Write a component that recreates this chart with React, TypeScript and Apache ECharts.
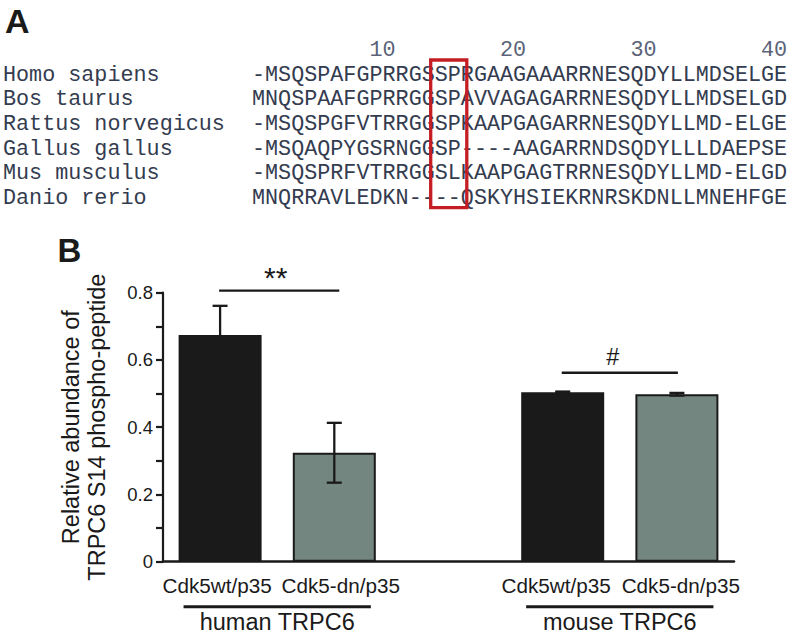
import React, { useEffect, useRef } from 'react';
import * as echarts from 'echarts';

// ---- Panel A: sequence alignment ----
const species = ['Homo sapiens', 'Bos taurus', 'Rattus norvegicus', 'Gallus gallus', 'Mus musculus', 'Danio rerio'];
const sequences = [
  '-MSQSPAFGPRRGSSPRGAAGAAARRNESQDYLLMDSELGE',
  'MNQSPAAFGPRRGGSPAVVAGAGARRNESQDYLLMDSELGD',
  '-MSQSPGFVTRRGGSPKAAPGAGARRNESQDYLLMD-ELGE',
  '-MSQAQPYGSRNGGSP----AAGARRNDSQDYLLLDAEPSE',
  '-MSQSPRFVTRRGGSLKAAPGAGTRRNESQDYLLMD-ELGD',
  'MNQRRAVLEDKN----QSKYHSIEKRNRSKDNLLMNEHFGE',
];
const positionLabels = [10, 20, 30, 40];
const boxedColumns = [14, 15];

// ---- Panel B: bar chart ----
const categories = ['Cdk5wt/p35', 'Cdk5-dn/p35', '', 'Cdk5wt/p35', 'Cdk5-dn/p35'];
const means: (number | null)[] = [0.674, 0.324, null, 0.504, 0.498];
const errors: (number | null)[] = [0.087, 0.089, null, 0.002, 0.004];
const barColors = ['#1a1a1a', '#748680', '#ffffff', '#1a1a1a', '#748680'];
const labelShift = [-3, 6.5, 0, -6.5, 4];
const groupNames = ['human TRPC6', 'mouse TRPC6'];
const groupFrom = [0, 3];
const groupTo = [1, 4];
const sigMarks = ['**', '#'];
const sigFrom = [0, 3];
const sigTo = [1, 4];
const sigLevel = [0.806, 0.562];

const SANS = '"Liberation Sans", Arial, sans-serif';
const MONO = '"Liberation Mono", "Courier New", monospace';
const INK = '#1a1a1a';

const SEQ_X = 252;
const PITCH = 13.05;
const MONO_SIZE = 21.75;
const ROW_Y0 = 75.3;
const ROW_STEP = 24.6;

function buildGraphics(): any[] {
  const els: any[] = [];
  const txt = (text: string, x: number, y: number, size: number, extra: any = {}) => ({
    type: 'text',
    x,
    y,
    silent: true,
    style: {
      text,
      fontSize: size,
      fontFamily: extra.fontFamily || SANS,
      fontWeight: extra.fontWeight || 'normal',
      fill: extra.fill || INK,
      align: extra.align || 'left',
      textAlign: extra.align || 'left',
      verticalAlign: 'middle',
      textVerticalAlign: 'middle',
    },
  });
  els.push(txt('A', 5, 20.5, 34, { fontWeight: 'bold' }));
  els.push(txt('B', 57.5, 250.5, 33, { fontWeight: 'bold' }));
  positionLabels.forEach((n) => {
    els.push(txt(String(n), SEQ_X + (n + 1) * PITCH, 50, MONO_SIZE, { fontFamily: MONO, fill: '#5a6378', align: 'right' }));
  });
  species.forEach((s, i) => {
    els.push(txt(s, 3, ROW_Y0 + i * ROW_STEP, MONO_SIZE, { fontFamily: MONO, fill: '#343c50' }));
  });
  sequences.forEach((s, i) => {
    els.push(txt(s, SEQ_X, ROW_Y0 + i * ROW_STEP, MONO_SIZE, { fontFamily: MONO, fill: '#343c50' }));
  });
  const c0 = boxedColumns[0];
  const c1 = boxedColumns[boxedColumns.length - 1] + 1;
  els.push({
    type: 'rect',
    silent: true,
    shape: { x: SEQ_X + c0 * PITCH - 4, y: 60, width: (c1 - c0) * PITCH + 10, height: 147.7 },
    style: { fill: 'none', stroke: '#c41e24', lineWidth: 3.3 },
  });
  return els;
}

export default function App() {
  const ref = useRef<HTMLDivElement>(null);
  useEffect(() => {
    if (!ref.current) return;
    const chart = echarts.init(ref.current, undefined, { renderer: 'svg' });
    const errData = means
      .map((m, i) => (m == null ? null : [i, m, errors[i]]))
      .filter((d) => d != null);
    const sigData = sigMarks.map((_, i) => [sigFrom[i], sigTo[i], sigLevel[i], i]);
    const groupData = groupNames.map((_, i) => [groupFrom[i], groupTo[i], 0, i]);

    const option: any = {
      animation: false,
      graphic: buildGraphics(),
      grid: { left: 163, right: 58, top: 292.7, bottom: 77.3, containLabel: false },
      xAxis: {
        type: 'category',
        data: categories.map((c, i) => ({
          value: c,
          textStyle: {
            padding: labelShift[i] >= 0 ? [0, 0, 0, 2 * labelShift[i]] : [0, -2 * labelShift[i], 0, 0],
          },
        })),
        axisLine: { show: true, lineStyle: { color: INK, width: 2.5 } },
        axisTick: { show: false },
        axisLabel: { interval: 0, color: INK, fontSize: 20.7, fontFamily: SANS, margin: 13 },
        splitLine: { show: false },
      },
      yAxis: {
        type: 'value',
        min: 0,
        max: 0.8,
        interval: 0.1,
        name: 'Relative abundance of\nTRPC6 S14 phospho-peptide',
        nameLocation: 'middle',
        nameGap: 53,
        nameTextStyle: { color: INK, fontSize: 23.5, fontFamily: SANS, lineHeight: 26 },
        axisLine: { show: true, lineStyle: { color: INK, width: 2.2 } },
        axisTick: { show: true, length: 7, lineStyle: { color: INK, width: 2.2 } },
        axisLabel: {
          color: INK,
          fontSize: 18.5,
          fontFamily: SANS,
          margin: 10,
          formatter: (v: number) => {
            const k = Math.round(v * 10);
            if (k % 2 !== 0) return '';
            return k === 0 ? '0' : (k / 10).toFixed(1);
          },
        },
        splitLine: { show: false },
      },
      series: [
        {
          type: 'bar',
          barWidth: 83,
          data: means.map((m, i) => ({
            value: m,
            itemStyle: { color: barColors[i], borderColor: INK, borderWidth: 2 },
          })),
        },
        {
          type: 'custom',
          encode: { x: 0, y: 1 },
          data: errData,
          z: 5,
          renderItem: (params: any, api: any) => {
            const i = api.value(0);
            const m = api.value(1);
            const e = api.value(2);
            const top = api.coord([i, m + e]);
            const bot = api.coord([i, m - e]);
            const hw = 7.5;
            const style = { stroke: INK, lineWidth: 2.3 };
            return {
              type: 'group',
              children: [
                { type: 'line', shape: { x1: top[0], y1: top[1], x2: bot[0], y2: bot[1] }, style },
                { type: 'line', shape: { x1: top[0] - hw, y1: top[1], x2: top[0] + hw, y2: top[1] }, style },
                { type: 'line', shape: { x1: bot[0] - hw, y1: bot[1], x2: bot[0] + hw, y2: bot[1] }, style },
              ],
            };
          },
        },
        {
          type: 'custom',
          encode: { x: 0 },
          data: sigData,
          clip: false,
          renderItem: (params: any, api: any) => {
            const a = api.coord([api.value(0), api.value(2)]);
            const b = api.coord([api.value(1), api.value(2)]);
            const idx = api.value(3);
            const mark = sigMarks[idx];
            const isStar = mark.indexOf('*') >= 0;
            const cx = (a[0] + b[0]) / 2 + (isStar ? -1.5 : -7);
            return {
              type: 'group',
              children: [
                { type: 'line', shape: { x1: a[0] - 1, y1: a[1], x2: b[0] + (isStar ? 5 : 1), y2: b[1] }, style: { stroke: INK, lineWidth: 2.3 } },
                {
                  type: 'text',
                  x: cx,
                  y: a[1] + (isStar ? -13 : -16),
                  style: {
                    text: mark,
                    fontSize: isStar ? 30 : 23.5,
                    fontFamily: SANS,
                    fill: INK,
                    align: 'center',
                    textAlign: 'center',
                    verticalAlign: 'middle',
                    textVerticalAlign: 'middle',
                  },
                },
              ],
            };
          },
        },
        {
          type: 'custom',
          encode: { x: 0 },
          data: groupData,
          clip: false,
          renderItem: (params: any, api: any) => {
            const a = api.coord([api.value(0), 0]);
            const b = api.coord([api.value(1), 0]);
            const band = api.size([1, 0])[0];
            const pad = band * 0.32;
            const y = a[1] + 45;
            const name = groupNames[api.value(3)];
            return {
              type: 'group',
              children: [
                { type: 'line', shape: { x1: a[0] - pad, y1: y, x2: b[0] + pad, y2: y }, style: { stroke: INK, lineWidth: 3 } },
                {
                  type: 'text',
                  x: (a[0] + b[0]) / 2,
                  y: y + 15.5,
                  style: {
                    text: name,
                    fontSize: 23.5,
                    fontFamily: SANS,
                    fill: INK,
                    align: 'center',
                    textAlign: 'center',
                    verticalAlign: 'middle',
                    textVerticalAlign: 'middle',
                  },
                },
              ],
            };
          },
        },
      ],
    };
    chart.setOption(option);
    return () => chart.dispose();
  }, []);
  return <div ref={ref} style={{ position: 'absolute', left: 0, top: 0, width: 792, height: 639, background: '#fff' }} />;
}
